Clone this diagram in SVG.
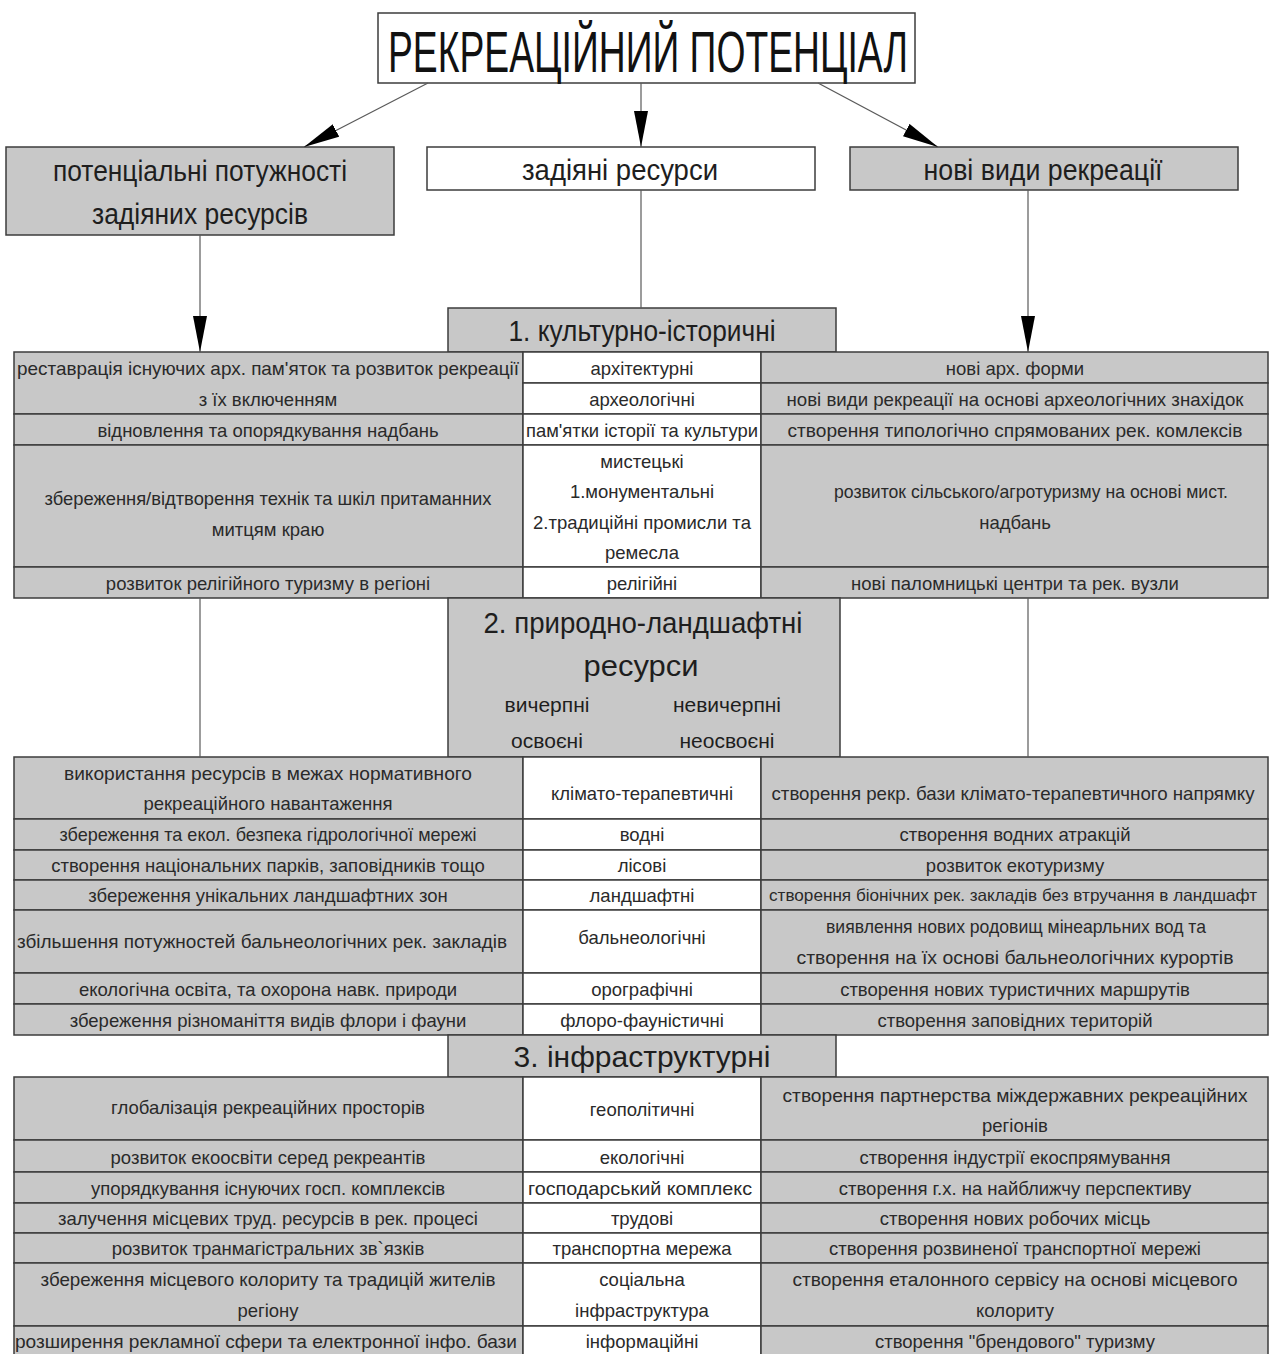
<svg xmlns="http://www.w3.org/2000/svg" width="1269" height="1354" viewBox="0 0 1269 1354">
<defs>
<style>
.g{fill:#c8c8c8;stroke:#3c3c3c;stroke-width:1.5}
.w{fill:#ffffff;stroke:#3c3c3c;stroke-width:1.5}
.t{font-family:'Liberation Sans',Arial,sans-serif;font-size:18.5px;fill:#2a2a2a;text-anchor:middle;dominant-baseline:central}
.h{font-size:30px;fill:#1e1e1e}
.s{font-size:21px;fill:#1e1e1e}
.conn{stroke:#5a5a5a;stroke-width:1.2;fill:none}
</style>
<marker id="arr" viewBox="0 0 36 14" refX="36" refY="7" markerWidth="36" markerHeight="14" markerUnits="userSpaceOnUse" orient="auto">
<path d="M0,0 L36,7 L0,14 z" fill="#000"/>
</marker>
</defs>
<rect x="0" y="0" width="1269" height="1354" fill="#fff"/>

<g id="title">
<rect class="w" x="378" y="13" width="537" height="70"/>
<text class="t" x="648" y="51" style="font-size:58px;fill:#111" textLength="520" lengthAdjust="spacingAndGlyphs">РЕКРЕАЦІЙНИЙ ПОТЕНЦІАЛ</text>
</g>

<g id="box-potential">
<rect class="g" x="6" y="147" width="388" height="88"/>
<text class="t h" x="200" y="170" textLength="294" lengthAdjust="spacingAndGlyphs">потенціальні потужності</text>
<text class="t h" x="200" y="213" textLength="216" lengthAdjust="spacingAndGlyphs">задіяних ресурсів</text>
</g>
<g id="box-used">
<rect class="w" x="427" y="147" width="388" height="43"/>
<text class="t h" x="620" y="169" textLength="196" lengthAdjust="spacingAndGlyphs">задіяні ресурси</text>
</g>
<g id="box-new">
<rect class="g" x="850" y="147" width="388" height="43"/>
<text class="t h" x="1043" y="169" textLength="239" lengthAdjust="spacingAndGlyphs">нові види рекреації</text>
</g>

<g id="sec1-header">
<rect class="g" x="448" y="308" width="388" height="44"/>
<text class="t h" x="642" y="330" textLength="267" lengthAdjust="spacingAndGlyphs">1. культурно-історичні</text>
</g>

<g id="sec1-left">
<rect class="g" x="14" y="352" width="509" height="62"/>
<text class="t" x="268" y="368" textLength="502" lengthAdjust="spacingAndGlyphs">реставрація існуючих арх. пам'яток та розвиток рекреації</text>
<text class="t" x="268" y="399">з їх включенням</text>
<rect class="g" x="14" y="414" width="509" height="31"/>
<text class="t" x="268" y="430">відновлення та опорядкування надбань</text>
<rect class="g" x="14" y="445" width="509" height="122"/>
<text class="t" x="268" y="498" textLength="447" lengthAdjust="spacingAndGlyphs">збереження/відтворення технік та шкіл притаманних</text>
<text class="t" x="268" y="529">митцям краю</text>
<rect class="g" x="14" y="567" width="509" height="31"/>
<text class="t" x="268" y="583">розвиток релігійного туризму в регіоні</text>
</g>
<g id="sec1-mid">
<rect class="w" x="523" y="352" width="238" height="31"/>
<text class="t" x="642" y="368">архітектурні</text>
<rect class="w" x="523" y="383" width="238" height="31"/>
<text class="t" x="642" y="399">археологічні</text>
<rect class="w" x="523" y="414" width="238" height="31"/>
<text class="t" x="642" y="430" textLength="232" lengthAdjust="spacingAndGlyphs">пам'ятки історії та культури</text>
<rect class="w" x="523" y="445" width="238" height="122"/>
<text class="t" x="642" y="461">мистецькі</text>
<text class="t" x="642" y="491">1.монументальні</text>
<text class="t" x="642" y="522">2.традиційні промисли та</text>
<text class="t" x="642" y="552">ремесла</text>
<rect class="w" x="523" y="567" width="238" height="31"/>
<text class="t" x="642" y="583">релігійні</text>
</g>
<g id="sec1-right">
<rect class="g" x="761" y="352" width="507" height="31"/>
<text class="t" x="1015" y="368">нові арх. форми</text>
<rect class="g" x="761" y="383" width="507" height="31"/>
<text class="t" x="1015" y="399" textLength="457" lengthAdjust="spacingAndGlyphs">нові види рекреації на основі археологічних знахідок</text>
<rect class="g" x="761" y="414" width="507" height="31"/>
<text class="t" x="1015" y="430" textLength="455" lengthAdjust="spacingAndGlyphs">створення типологічно спрямованих рек. комлексів</text>
<rect class="g" x="761" y="445" width="507" height="122"/>
<text class="t" x="1031" y="491" textLength="394" lengthAdjust="spacingAndGlyphs">розвиток сільського/агротуризму  на основі мист.</text>
<text class="t" x="1015" y="522">надбань</text>
<rect class="g" x="761" y="567" width="507" height="31"/>
<text class="t" x="1015" y="583">нові паломницькі центри та рек. вузли</text>
</g>

<g id="sec2-header">
<rect class="g" x="448" y="598" width="392" height="159"/>
<text class="t h" x="643" y="622" textLength="319" lengthAdjust="spacingAndGlyphs">2. природно-ландшафтні</text>
<text class="t h" x="641" y="665" textLength="115" lengthAdjust="spacingAndGlyphs">ресурси</text>
<text class="t s" x="547" y="704">вичерпні</text>
<text class="t s" x="727" y="704">невичерпні</text>
<text class="t s" x="547" y="740">освоєні</text>
<text class="t s" x="727" y="740">неосвоєні</text>
</g>

<g id="sec2-left">
<rect class="g" x="14" y="757" width="509" height="62"/>
<text class="t" x="268" y="773" textLength="408" lengthAdjust="spacingAndGlyphs">використання  ресурсів в межах нормативного</text>
<text class="t" x="268" y="803">рекреаційного  навантаження</text>
<rect class="g" x="14" y="819" width="509" height="31"/>
<text class="t" x="268" y="834" textLength="417" lengthAdjust="spacingAndGlyphs">збереження та екол. безпека гідрологічної мережі</text>
<rect class="g" x="14" y="850" width="509" height="30"/>
<text class="t" x="268" y="865">створення національних парків, заповідників тощо</text>
<rect class="g" x="14" y="880" width="509" height="30"/>
<text class="t" x="268" y="895">збереження унікальних ландшафтних зон</text>
<rect class="g" x="14" y="910" width="509" height="63"/>
<text class="t" x="262" y="941" textLength="490" lengthAdjust="spacingAndGlyphs">збільшення потужностей бальнеологічних рек. закладів</text>
<rect class="g" x="14" y="973" width="509" height="31"/>
<text class="t" x="268" y="989">екологічна освіта, та охорона навк. природи</text>
<rect class="g" x="14" y="1004" width="509" height="31"/>
<text class="t" x="268" y="1020">збереження різноманіття видів флори і фауни</text>
</g>
<g id="sec2-mid">
<rect class="w" x="523" y="757" width="238" height="62"/>
<text class="t" x="642" y="793">клімато-терапевтичні</text>
<rect class="w" x="523" y="819" width="238" height="31"/>
<text class="t" x="642" y="834">водні</text>
<rect class="w" x="523" y="850" width="238" height="30"/>
<text class="t" x="642" y="865">лісові</text>
<rect class="w" x="523" y="880" width="238" height="30"/>
<text class="t" x="642" y="895">ландшафтні</text>
<rect class="w" x="523" y="910" width="238" height="63"/>
<text class="t" x="642" y="937">бальнеологічні</text>
<rect class="w" x="523" y="973" width="238" height="31"/>
<text class="t" x="642" y="989">орографічні</text>
<rect class="w" x="523" y="1004" width="238" height="31"/>
<text class="t" x="642" y="1020">флоро-фауністичні</text>
</g>
<g id="sec2-right">
<rect class="g" x="761" y="757" width="507" height="62"/>
<text class="t" x="1013" y="793" textLength="483" lengthAdjust="spacingAndGlyphs">створення рекр. бази клімато-терапевтичного напрямку</text>
<rect class="g" x="761" y="819" width="507" height="31"/>
<text class="t" x="1015" y="834">створення водних атракцій</text>
<rect class="g" x="761" y="850" width="507" height="30"/>
<text class="t" x="1015" y="865">розвиток екотуризму</text>
<rect class="g" x="761" y="880" width="507" height="30"/>
<text class="t" x="1013" y="895" style="font-size:16.5px" textLength="488" lengthAdjust="spacingAndGlyphs">створення біонічних рек. закладів без втручання в ландшафт</text>
<rect class="g" x="761" y="910" width="507" height="63"/>
<text class="t" x="1016" y="926" textLength="380" lengthAdjust="spacingAndGlyphs">виявлення нових родовищ мінеарльних вод та</text>
<text class="t" x="1015" y="957" textLength="437" lengthAdjust="spacingAndGlyphs">створення на їх основі бальнеологічних курортів</text>
<rect class="g" x="761" y="973" width="507" height="31"/>
<text class="t" x="1015" y="989">створення нових туристичних маршрутів</text>
<rect class="g" x="761" y="1004" width="507" height="31"/>
<text class="t" x="1015" y="1020">створення заповідних територій</text>
</g>

<g id="sec3-header">
<rect class="g" x="448" y="1035" width="388" height="42"/>
<text class="t h" x="642" y="1056">3. інфраструктурні</text>
</g>

<g id="sec3-left">
<rect class="g" x="14" y="1077" width="509" height="63"/>
<text class="t" x="268" y="1107">глобалізація рекреаційних просторів</text>
<rect class="g" x="14" y="1140" width="509" height="32"/>
<text class="t" x="268" y="1157">розвиток екоосвіти серед рекреантів</text>
<rect class="g" x="14" y="1172" width="509" height="31"/>
<text class="t" x="268" y="1188">упорядкування існуючих госп. комплексів</text>
<rect class="g" x="14" y="1203" width="509" height="30"/>
<text class="t" x="268" y="1218">залучення місцевих труд. ресурсів в рек. процесі</text>
<rect class="g" x="14" y="1233" width="509" height="30"/>
<text class="t" x="268" y="1248">розвиток транмагістральних зв`язків</text>
<rect class="g" x="14" y="1263" width="509" height="63"/>
<text class="t" x="268" y="1279" textLength="455" lengthAdjust="spacingAndGlyphs">збереження місцевого колориту та традицій жителів</text>
<text class="t" x="268" y="1310">регіону</text>
<rect class="g" x="14" y="1326" width="509" height="32"/>
<text class="t" x="266" y="1341" textLength="502" lengthAdjust="spacingAndGlyphs">розширення рекламної сфери та електронної інфо. бази</text>
</g>
<g id="sec3-mid">
<rect class="w" x="523" y="1077" width="238" height="63"/>
<text class="t" x="642" y="1109">геополітичні</text>
<rect class="w" x="523" y="1140" width="238" height="32"/>
<text class="t" x="642" y="1157">екологічні</text>
<rect class="w" x="523" y="1172" width="238" height="31"/>
<text class="t" x="640" y="1188" textLength="224" lengthAdjust="spacingAndGlyphs">господарський комплекс</text>
<rect class="w" x="523" y="1203" width="238" height="30"/>
<text class="t" x="642" y="1218">трудові</text>
<rect class="w" x="523" y="1233" width="238" height="30"/>
<text class="t" x="642" y="1248">транспортна мережа</text>
<rect class="w" x="523" y="1263" width="238" height="63"/>
<text class="t" x="642" y="1279">соціальна</text>
<text class="t" x="642" y="1310">інфраструктура</text>
<rect class="w" x="523" y="1326" width="238" height="32"/>
<text class="t" x="642" y="1341">інформаційні</text>
</g>
<g id="sec3-right">
<rect class="g" x="761" y="1077" width="507" height="63"/>
<text class="t" x="1015" y="1095" textLength="465" lengthAdjust="spacingAndGlyphs">створення партнерства міждержавних рекреаційних</text>
<text class="t" x="1015" y="1125">регіонів</text>
<rect class="g" x="761" y="1140" width="507" height="32"/>
<text class="t" x="1015" y="1157">створення індустрії екоспрямування</text>
<rect class="g" x="761" y="1172" width="507" height="31"/>
<text class="t" x="1015" y="1188">створення г.х.  на найближчу перспективу</text>
<rect class="g" x="761" y="1203" width="507" height="30"/>
<text class="t" x="1015" y="1218">створення нових робочих місць</text>
<rect class="g" x="761" y="1233" width="507" height="30"/>
<text class="t" x="1015" y="1248">створення розвиненої транспортної мережі</text>
<rect class="g" x="761" y="1263" width="507" height="63"/>
<text class="t" x="1015" y="1279" textLength="445" lengthAdjust="spacingAndGlyphs">створення еталонного сервісу на основі місцевого</text>
<text class="t" x="1015" y="1310">колориту</text>
<rect class="g" x="761" y="1326" width="507" height="32"/>
<text class="t" x="1015" y="1341">створення "брендового" туризму</text>
</g>

<g id="connectors">
<line class="conn" x1="428" y1="83" x2="304" y2="147" marker-end="url(#arr)"/>
<line class="conn" x1="641" y1="83" x2="641" y2="147" marker-end="url(#arr)"/>
<line class="conn" x1="818" y1="83" x2="938" y2="147" marker-end="url(#arr)"/>
<line class="conn" x1="200" y1="235" x2="200" y2="352" marker-end="url(#arr)"/>
<line class="conn" x1="641" y1="190" x2="641" y2="308"/>
<line class="conn" x1="1028" y1="190" x2="1028" y2="352" marker-end="url(#arr)"/>
<line class="conn" x1="200" y1="598" x2="200" y2="757"/>
<line class="conn" x1="1028" y1="598" x2="1028" y2="757"/>
</g>
</svg>
